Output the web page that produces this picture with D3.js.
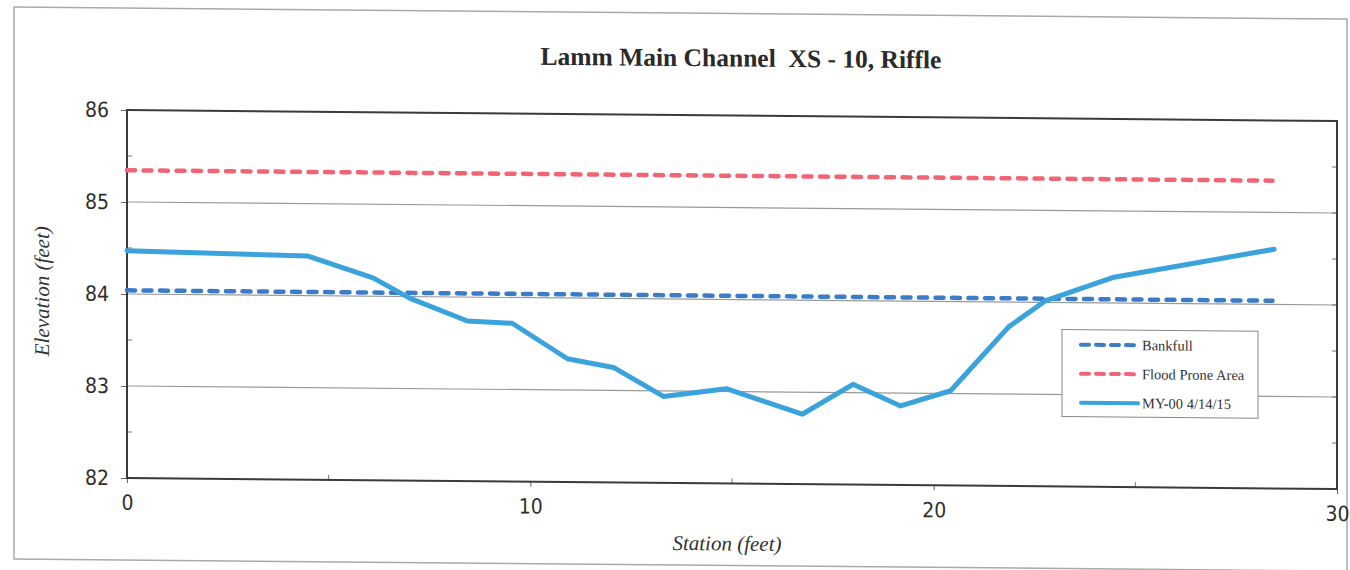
<!DOCTYPE html>
<html>
<head>
<meta charset="utf-8">
<script src="https://cdn.jsdelivr.net/npm/d3@7"></script>
<style>
  html, body { margin: 0; padding: 0; background: #fff; }
  svg { display: block; }
</style>
</head>
<body>
<svg id="chart" width="1350" height="570"></svg>
<script>
// ---- data ----
const title = "Lamm Main Channel  XS - 10, Riffle";
const xTicks = [0, 10, 20, 30];
const yTicks = [82, 83, 84, 85, 86];
const refStations = [0, 28.4];
const bankfull = [84.04, 84.04];
const floodProne = [85.345, 85.345];
const surveyStations = [0, 4.49, 6.1, 7.02, 8.44, 9.55, 10.92, 12.06, 13.3, 14.86, 16.74, 18.0, 19.18, 20.42, 21.86, 22.78, 24.47, 28.44];
const surveyElev    = [84.47, 84.43, 84.20, 83.98, 83.74, 83.72, 83.34, 83.25, 82.94, 83.03, 82.76, 83.09, 82.86, 83.03, 83.73, 84.02, 84.28, 84.60];
const legendNames = ["Bankfull", "Flood Prone Area", "MY-00 4/14/15"];

// ---- layout ----
const svg = d3.select("#chart");
const L = 127, R = 1337, T = 110, B = 478;
const skew = 0.0091;
const g = svg.append("g").attr("transform", `matrix(1,${skew},0,1,0,${-skew*L})`);

const x = d3.scaleLinear().domain([0, 30]).range([L, R]);
const y = d3.scaleLinear().domain([82, 86]).range([B, T]);

// outer frame
g.append("rect").attr("x", 14).attr("y", 8).attr("width", 1333).attr("height", 552)
  .attr("fill", "none").attr("stroke", "#a8aca4").attr("stroke-width", 1.5);

// title
g.append("text").attr("x", 741).attr("y", 61).attr("text-anchor", "middle")
  .attr("xml:space", "preserve").style("white-space", "pre")
  .style("font-family", "'Liberation Serif','Times New Roman',serif")
  .style("font-weight", "bold").style("font-size", "25.5px").attr("fill", "#2a2a2a")
  .text(title);

// gridlines
g.append("g").selectAll("line").data(yTicks.filter(v => v > 82 && v < 86)).join("line")
  .attr("x1", L).attr("x2", R).attr("y1", d => y(d)).attr("y2", d => y(d))
  .attr("stroke", "#9a9a9a").attr("stroke-width", 1.2);

// axes
const tickFont = "'Liberation Sans Narrow','Arial Narrow','DejaVu Sans Condensed',sans-serif";
const yAxis = g.append("g").attr("transform", `translate(${L},0)`)
  .call(d3.axisLeft(y).tickValues(yTicks).tickFormat(d3.format("d")).tickSize(6).tickPadding(12));
const xAxis = g.append("g").attr("transform", `translate(0,${B})`)
  .call(d3.axisBottom(x).tickValues(xTicks).tickFormat(d3.format("d")).tickSize(5).tickPadding(12));
[yAxis, xAxis].forEach(a => {
  a.select(".domain").remove();
  a.selectAll("line").attr("stroke", "#666");
  a.selectAll("text").style("font-family", tickFont).style("font-size", "21px")
    .style("font-weight", "normal").attr("fill", "#2e2e2e");
});
// minor ticks
g.append("g").selectAll("line").data([82.5, 83.5, 84.5, 85.5]).join("line")
  .attr("x1", L).attr("x2", L + 5).attr("y1", d => y(d)).attr("y2", d => y(d))
  .attr("stroke", "#777");
g.append("g").selectAll("line").data([5, 15, 25]).join("line")
  .attr("x1", d => x(d)).attr("x2", d => x(d)).attr("y1", B).attr("y2", B - 5)
  .attr("stroke", "#777");
g.append("g").selectAll("line").data([82.5, 83, 83.5, 84, 84.5, 85, 85.5]).join("line")
  .attr("x1", R).attr("x2", R - 5).attr("y1", d => y(d)).attr("y2", d => y(d))
  .attr("stroke", "#777");

// plot border
g.append("rect").attr("x", L).attr("y", T).attr("width", R - L).attr("height", B - T)
  .attr("fill", "none").attr("stroke", "#3a3a36").attr("stroke-width", 2);

// axis titles
g.append("text").attr("transform", `translate(49,292) rotate(-90)`).attr("text-anchor", "middle")
  .style("font-family", "'Liberation Serif','Times New Roman',serif").style("font-style", "italic")
  .style("font-size", "21px").attr("fill", "#333").text("Elevation (feet)");
g.append("text").attr("x", 727).attr("y", 545).attr("text-anchor", "middle")
  .style("font-family", "'Liberation Serif','Times New Roman',serif").style("font-style", "italic")
  .style("font-size", "21px").attr("fill", "#333").text("Station (feet)");

// series
const colors = ["#3a7cc6", "#f06474", "#3ba3dc"];
const line = d3.line().x(d => x(d[0])).y(d => y(d[1]));
const bankData = refStations.map((s, i) => [s, bankfull[i]]);
const floodData = refStations.map((s, i) => [s, floodProne[i]]);
const surveyData = surveyStations.map((s, i) => [s, surveyElev[i]]);

g.append("path").datum(bankData).attr("d", line).attr("fill", "none")
  .attr("stroke", colors[0]).attr("stroke-width", 4.5).attr("stroke-dasharray", "8,8.5").attr("stroke-linecap", "round");
g.append("path").datum(floodData).attr("d", line).attr("fill", "none")
  .attr("stroke", colors[1]).attr("stroke-width", 4.5).attr("stroke-dasharray", "8,8.5").attr("stroke-linecap", "round");
g.append("path").datum(surveyData).attr("d", line).attr("fill", "none")
  .attr("stroke", colors[2]).attr("stroke-width", 5).attr("stroke-linejoin", "round").attr("stroke-linecap", "round");

// legend
const lg = g.append("g").attr("transform", "translate(1062,321)");
lg.append("rect").attr("width", 196).attr("height", 87).attr("fill", "#fff").attr("stroke", "#888").attr("stroke-width", 1);
const styles = [
  {dash: "8,7", w: 4},
  {dash: "8,7", w: 4},
  {dash: null, w: 4}
];
legendNames.forEach((name, i) => {
  const yy = 15 + i * 29;
  const ln = lg.append("line").attr("x1", 19).attr("x2", 76).attr("y1", yy).attr("y2", yy)
    .attr("stroke", colors[i]).attr("stroke-width", styles[i].w).attr("stroke-linecap", "round");
  if (styles[i].dash) ln.attr("stroke-dasharray", styles[i].dash);
  lg.append("text").attr("x", 80).attr("y", yy + 5)
    .style("font-family", "'Liberation Serif','Times New Roman',serif").style("font-size", "14.5px")
    .attr("fill", "#333").text(name);
});
</script>
</body>
</html>
